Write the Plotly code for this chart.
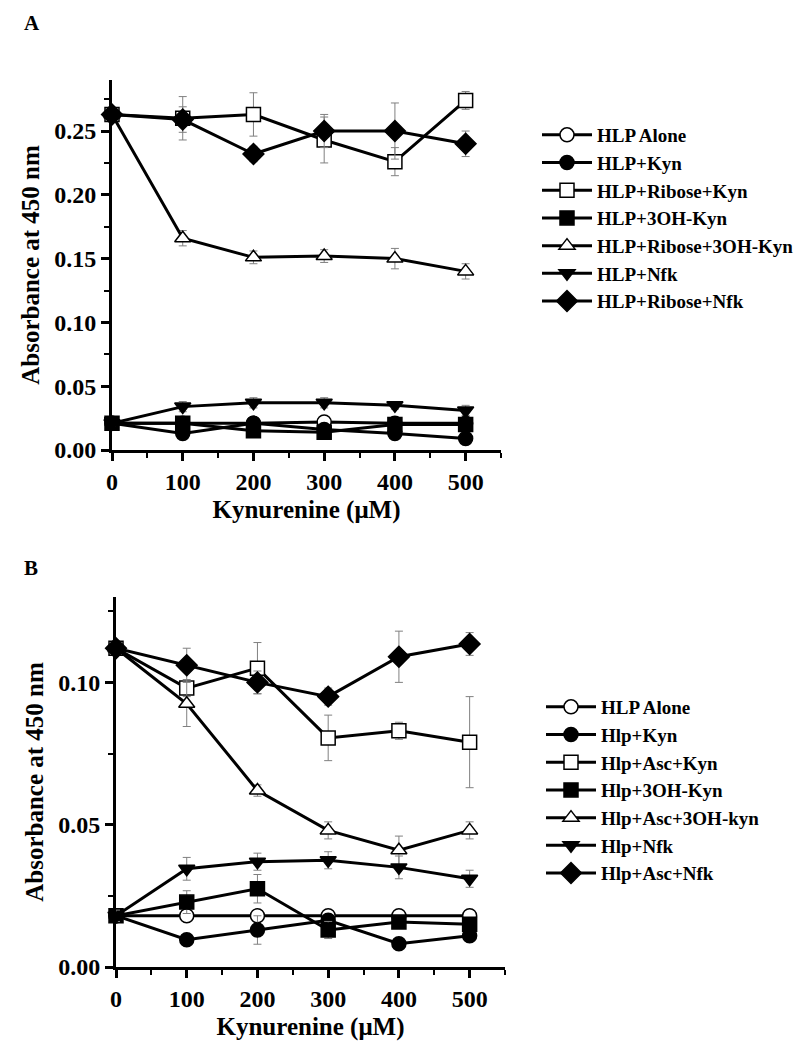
import plotly.graph_objects as go

# kynurenine concentration (uM)
conc = [0, 100, 200, 300, 400, 500]

# Panel A series
names_a = ["HLP Alone", "HLP+Kyn", "HLP+Ribose+Kyn", "HLP+3OH-Kyn",
           "HLP+Ribose+3OH-Kyn", "HLP+Nfk", "HLP+Ribose+Nfk"]
a_alone = [0.021, 0.021, 0.021, 0.022, 0.021, 0.021]
a_kyn = [0.021, 0.013, 0.021, 0.016, 0.013, 0.009]
a_rib_kyn = [0.263, 0.260, 0.263, 0.243, 0.226, 0.274]
a_3oh = [0.021, 0.021, 0.015, 0.014, 0.020, 0.020]
a_rib_3oh = [0.263, 0.166, 0.151, 0.152, 0.150, 0.140]
a_nfk = [0.021, 0.034, 0.037, 0.037, 0.035, 0.031]
a_rib_nfk = [0.263, 0.259, 0.232, 0.250, 0.250, 0.240]
a_err = {
    "HLP Alone": [0.002, 0.002, 0.002, 0.003, 0.002, 0.002],
    "HLP+Kyn": [0.002, 0.002, 0.003, 0.002, 0.002, 0.002],
    "HLP+Ribose+Kyn": [0.003, 0.017, 0.017, 0.018, 0.011, 0.007],
    "HLP+3OH-Kyn": [0.002, 0.003, 0.004, 0.002, 0.003, 0.003],
    "HLP+Ribose+3OH-Kyn": [0.003, 0.006, 0.005, 0.005, 0.008, 0.006],
    "HLP+Nfk": [0.002, 0.004, 0.004, 0.004, 0.003, 0.004],
    "HLP+Ribose+Nfk": [0.003, 0.010, 0.006, 0.013, 0.022, 0.010],
}

# Panel B series
names_b = ["HLP Alone", "Hlp+Kyn", "Hlp+Asc+Kyn", "Hlp+3OH-Kyn",
           "Hlp+Asc+3OH-kyn", "Hlp+Nfk", "Hlp+Asc+Nfk"]
b_alone = [0.018, 0.018, 0.018, 0.018, 0.018, 0.018]
b_kyn = [0.018, 0.0096, 0.013, 0.0164, 0.0082, 0.011]
b_asc_kyn = [0.112, 0.098, 0.105, 0.0805, 0.083, 0.079]
b_3oh = [0.018, 0.0228, 0.0275, 0.013, 0.0158, 0.015]
b_asc_3oh = [0.112, 0.0925, 0.062, 0.048, 0.041, 0.048]
b_nfk = [0.018, 0.0345, 0.037, 0.0375, 0.035, 0.031]
b_asc_nfk = [0.112, 0.106, 0.100, 0.095, 0.109, 0.1135]
b_err = {
    "HLP Alone": [0.002, 0.002, 0.002, 0.002, 0.002, 0.002],
    "Hlp+Kyn": [0.002, 0.001, 0.005, 0.002, 0.001, 0.001],
    "Hlp+Asc+Kyn": [0.002, 0.003, 0.009, 0.008, 0.003, 0.016],
    "Hlp+3OH-Kyn": [0.002, 0.004, 0.005, 0.003, 0.002, 0.002],
    "Hlp+Asc+3OH-kyn": [0.002, 0.008, 0.002, 0.003, 0.005, 0.003],
    "Hlp+Nfk": [0.002, 0.004, 0.003, 0.003, 0.004, 0.003],
    "Hlp+Asc+Nfk": [0.002, 0.006, 0.004, 0.003, 0.009, 0.004],
}

symbols = ["circle-open", "circle", "square-open", "square",
           "triangle-up-open", "triangle-down", "diamond"]
FONT = "Liberation Serif, Times New Roman, serif"

fig = go.Figure()


def add_series(names, series, errs, xa, ya, legend):
    for name, ys, sym in zip(names, series, symbols):
        is_open = sym.endswith("-open")
        fig.add_trace(go.Scatter(
            x=conc, y=ys, name=name, mode="lines+markers",
            xaxis=xa, yaxis=ya, legend=legend, cliponaxis=False,
            line=dict(color="black", width=3),
            marker=dict(symbol=sym.replace("-open", ""),
                        size=14 if "diamond" not in sym else 16,
                        color="white" if is_open else "black",
                        line=dict(color="black", width=1.5)),
            error_y=dict(type="data", array=errs[name], color="#808080",
                         thickness=1, width=4),
        ))


add_series(names_a, [a_alone, a_kyn, a_rib_kyn, a_3oh, a_rib_3oh, a_nfk, a_rib_nfk],
           a_err, "x", "y", "legend")
add_series(names_b, [b_alone, b_kyn, b_asc_kyn, b_3oh, b_asc_3oh, b_nfk, b_asc_nfk],
           b_err, "x2", "y2", "legend2")

# the page body has an 8px margin, so the figure is sized/placed to fit the window
OFF = 8
W, H = 805 - OFF, 1050 - OFF


def px(sx):
    return (sx - OFF) / W


def py(sy):
    return (H - (sy - OFF)) / H


axis_common = dict(
    showline=True, linecolor="black", linewidth=3, mirror=False,
    showgrid=False, zeroline=False, ticks="outside", ticklen=8,
    tickwidth=2.5, tickcolor="black", automargin=False,
    tickfont=dict(family=FONT, size=24, color="black", weight="bold"),
    minor=dict(ticks="outside", ticklen=5, tickwidth=2, tickcolor="black"),
)
title_font = dict(family=FONT, size=25, color="black", weight="bold")
legend_font = dict(family=FONT, size=19, color="black", weight="bold")

fig.update_layout(
    width=W, height=H, plot_bgcolor="white", paper_bgcolor="white",
    margin=dict(l=0, r=0, t=0, b=0, pad=0, autoexpand=False),
    font=dict(family=FONT, color="black"),
    xaxis=dict(axis_common, domain=[px(112), px(501)], anchor="y", range=[0, 550],
               dtick=100, minor=dict(axis_common["minor"], dtick=50),
               title=dict(text="Kynurenine (μM)", font=title_font, standoff=7)),
    yaxis=dict(axis_common, domain=[py(450), py(80)], anchor="x", range=[0, 0.29],
               dtick=0.05, tickformat=".2f",
               minor=dict(axis_common["minor"], dtick=0.025),
               title=dict(text="Absorbance at 450 nm", font=title_font, standoff=8)),
    xaxis2=dict(axis_common, domain=[px(116), px(505)], anchor="y2", range=[0, 550],
                dtick=100, minor=dict(axis_common["minor"], dtick=50),
                title=dict(text="Kynurenine (μM)", font=title_font, standoff=7)),
    yaxis2=dict(axis_common, domain=[py(967), py(597)], anchor="x2", range=[0, 0.13],
                dtick=0.05, tickformat=".2f",
                minor=dict(axis_common["minor"], dtick=0.025),
                title=dict(text="Absorbance at 450 nm", font=title_font, standoff=8)),
    legend=dict(x=px(537), y=py(116), xanchor="left", yanchor="top",
                font=legend_font, itemwidth=50, tracegroupgap=0,
                bgcolor="rgba(0,0,0,0)"),
    legend2=dict(x=px(541), y=py(688), xanchor="left", yanchor="top",
                 font=legend_font, itemwidth=50, tracegroupgap=0,
                 bgcolor="rgba(0,0,0,0)"),
    showlegend=True,
    annotations=[
        dict(text="A", x=px(22), y=py(9), xref="paper", yref="paper",
             xanchor="left", yanchor="top", showarrow=False,
             font=dict(family=FONT, size=21, color="black", weight="bold")),
        dict(text="B", x=px(22), y=py(554), xref="paper", yref="paper",
             xanchor="left", yanchor="top", showarrow=False,
             font=dict(family=FONT, size=21, color="black", weight="bold")),
    ],
)

fig.write_html("out.html")
